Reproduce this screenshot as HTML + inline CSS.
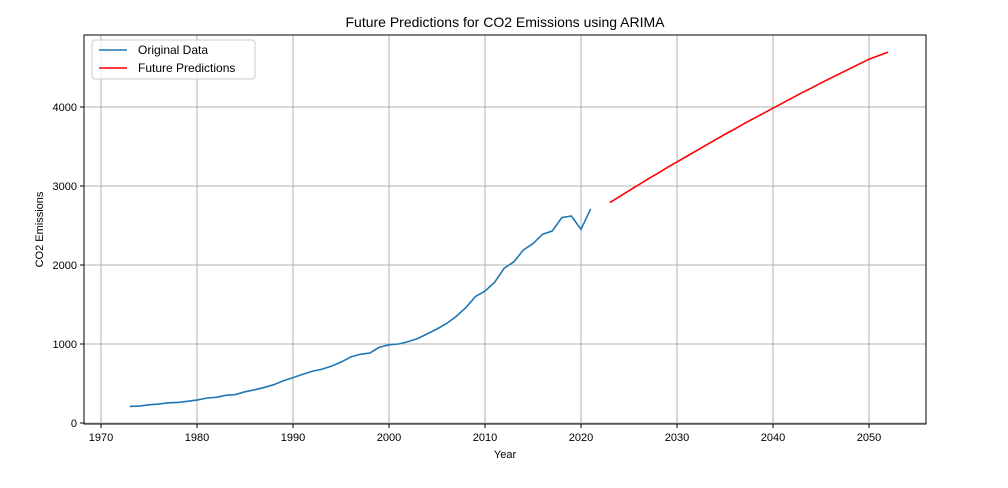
<!DOCTYPE html>
<html><head><meta charset="utf-8"><style>
body{margin:0;background:#fff;}
svg text{font-family:"Liberation Sans","DejaVu Sans",sans-serif;fill:#000;}
</style></head><body>
<svg id="chart" width="1008" height="483"></svg>
<script>
const years=[1973,1974,1975,1976,1977,1978,1979,1980,1981,1982,1983,1984,1985,1986,1987,1988,1989,1990,1991,1992,1993,1994,1995,1996,1997,1998,1999,2000,2001,2002,2003,2004,2005,2006,2007,2008,2009,2010,2011,2012,2013,2014,2015,2016,2017,2018,2019,2020,2021];
const original=[210,215,230,240,255,260,275,290,315,325,350,360,395,420,450,485,535,575,615,655,680,720,770,835,870,885,960,990,1000,1030,1070,1130,1190,1260,1350,1460,1600,1670,1780,1960,2040,2190,2270,2390,2430,2600,2620,2450,2710];
const futureYears=[2023,2024,2025,2026,2027,2028,2029,2030,2031,2032,2033,2034,2035,2036,2037,2038,2039,2040,2041,2042,2043,2044,2045,2046,2047,2048,2049,2050,2051,2052];
const future=[2790,2865,2940,3015,3090,3160,3235,3305,3375,3445,3515,3585,3655,3720,3790,3855,3920,3985,4050,4115,4180,4240,4305,4365,4425,4485,4545,4605,4650,4695];
const xTicks=[1970,1980,1990,2000,2010,2020,2030,2040,2050];
const yTicks=[0,1000,2000,3000,4000];

const NS="http://www.w3.org/2000/svg";
const svg=document.getElementById('chart');
const L=84,R=926,T=35,B=424;
const xs=v=>101+(v-1970)*9.6;
const ys=v=>423-v*0.079;
function mk(tag,attrs,parent){const e=document.createElementNS(NS,tag);for(const k in attrs)e.setAttribute(k,attrs[k]);(parent||svg).appendChild(e);return e;}

const grid=mk('g',{});


xTicks.forEach(t=>{
  mk('line',{x1:xs(t),x2:xs(t),y1:T,y2:B,stroke:'#b0b0b0','stroke-width':1},grid);
  const tk=mk('line',{x1:xs(t),x2:xs(t),y1:B,y2:B+4,stroke:'#000'});
  const lb=mk('text',{x:xs(t),y:B+17,'text-anchor':'middle','font-size':11});
  lb.textContent=t;
  
  
});
yTicks.forEach(t=>{
  mk('line',{x1:L,x2:R,y1:ys(t),y2:ys(t),stroke:'#b0b0b0','stroke-width':1},grid);
  mk('line',{x1:L-4,x2:L,y1:ys(t),y2:ys(t),stroke:'#000'});
  const lb=mk('text',{x:L-7,y:ys(t)+4,'text-anchor':'end','font-size':11});
  lb.textContent=t;
  
  
});

const p1=mk('polyline',{points:years.map((y,i)=>xs(y)+','+ys(original[i])).join(' '),fill:'none',stroke:'#1f77b4','stroke-width':1.6});


const p2=mk('polyline',{points:futureYears.map((y,i)=>xs(y)+','+ys(future[i])).join(' '),fill:'none',stroke:'#ff0000','stroke-width':1.6});



const frame=mk('rect',{x:L,y:T,width:R-L,height:B-T,fill:'none',stroke:'#000','stroke-width':1});



const title=mk('text',{x:(L+R)/2,y:27,'text-anchor':'middle','font-size':14});
title.textContent='Future Predictions for CO2 Emissions using ARIMA';


const xl=mk('text',{x:(L+R)/2,y:458,'text-anchor':'middle','font-size':11});
xl.textContent='Year';


const yl=mk('text',{x:0,y:0,'text-anchor':'middle','font-size':11,transform:'translate(43,'+((T+B)/2)+') rotate(-90)'});
yl.textContent='CO2 Emissions';



const lg=mk('g',{});


mk('rect',{x:92,y:40,width:163,height:39,rx:3,fill:'#fff','fill-opacity':0.8,stroke:'#ccc'},lg);
mk('line',{x1:99,x2:127,y1:50,y2:50,stroke:'#1f77b4','stroke-width':1.6},lg);
const t1=mk('text',{x:138,y:54,'font-size':12},lg);t1.textContent='Original Data';


mk('line',{x1:99,x2:127,y1:68,y2:68,stroke:'#ff0000','stroke-width':1.6},lg);
const t2=mk('text',{x:138,y:72,'font-size':12},lg);t2.textContent='Future Predictions';


</script>
</body></html>
